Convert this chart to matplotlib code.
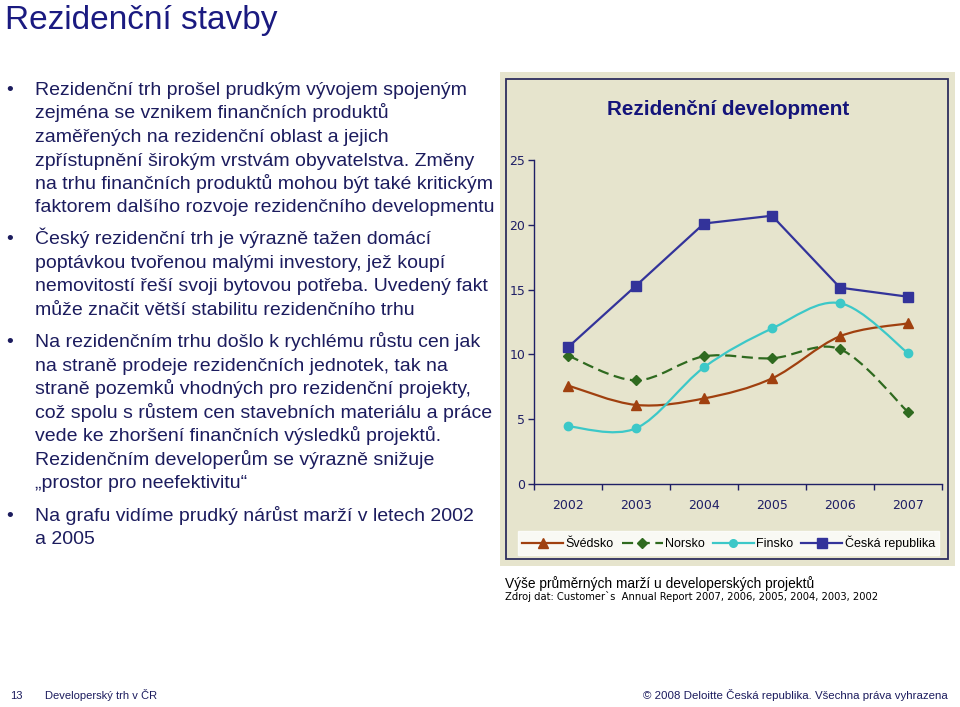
import matplotlib
matplotlib.use("Agg")
import matplotlib.pyplot as plt
from matplotlib.path import Path
from matplotlib.patches import PathPatch, Rectangle
from matplotlib.lines import Line2D

# data
years = ["2002", "2003", "2004", "2005", "2006", "2007"]
svedsko = [7.6, 6.1, 6.6, 8.15, 11.4, 12.4]
norsko = [9.9, 8.0, 9.85, 9.7, 10.4, 5.55]
finsko = [4.45, 4.3, 9.0, 12.0, 13.95, 10.1]
cesko = [10.55, 15.3, 20.1, 20.7, 15.15, 14.45]
yticks = [0, 5, 10, 15, 20, 25]

title = "Rezidenční stavby"
bullets = [
    ["Rezidenční trh prošel prudkým vývojem spojeným",
     "zejména se vznikem finančních produktů",
     "zaměřených na rezidenční oblast a jejich",
     "zpřístupnění širokým vrstvám obyvatelstva. Změny",
     "na trhu finančních produktů mohou být také kritickým",
     "faktorem dalšího rozvoje rezidenčního developmentu"],
    ["Český rezidenční trh je výrazně tažen domácí",
     "poptávkou tvořenou malými investory, jež koupí",
     "nemovitostí řeší svoji bytovou potřeba. Uvedený fakt",
     "může značit větší stabilitu rezidenčního trhu"],
    ["Na rezidenčním trhu došlo k rychlému růstu cen jak",
     "na straně prodeje rezidenčních jednotek, tak na",
     "straně pozemků vhodných pro rezidenční projekty,",
     "což spolu s růstem cen stavebních materiálu a práce",
     "vede ke zhoršení finančních výsledků projektů.",
     "Rezidenčním developerům se výrazně snižuje",
     "„prostor pro neefektivitu“"],
    ["Na grafu vidíme prudký nárůst marží v letech 2002",
     "a 2005"],
]
bullet_y = [95, 244.3, 347.3, 521]

W, H = 960, 707
fig = plt.figure(figsize=(9.6, 7.07), dpi=100)
fig.patch.set_facecolor("white")

def fx(px):
    return px / W

def fy(py):
    return 1 - py / H

TXT = "#1c1c5e"
NAVY = "#1f1f66"
BEIGE = "#e6e4cd"
sans = ["Liberation Sans", "DejaVu Sans"]

# slide title
fig.text(fx(5), fy(29), title, fontsize=24, color="#1a1a80",
         family=sans, va="baseline", ha="left")

# bullet text
for lines, y0 in zip(bullets, bullet_y):
    fig.text(fx(6), fy(y0), "•", fontsize=14, color=TXT, family=sans,
             va="baseline", ha="left")
    for i, ln in enumerate(lines):
        fig.text(fx(35), fy(y0 + i * 23.5), ln, fontsize=14, color=TXT,
                 family=sans, va="baseline", ha="left")

# chart background + frame
fig.patches.append(Rectangle((fx(500), fy(566)), fx(455), (566 - 72) / H,
                             transform=fig.transFigure, facecolor=BEIGE,
                             edgecolor="none", zorder=-2))
fig.patches.append(Rectangle((fx(506), fy(559)), fx(442), (559 - 79) / H,
                             transform=fig.transFigure, facecolor="none",
                             edgecolor="#2e2e5e", linewidth=1.3, zorder=1))

fig.text(fx(728.5), fy(115), "Rezidenční development", fontsize=14.9,
         fontweight="bold", color="#14147a", family=sans,
         ha="center", va="baseline")

ax = fig.add_axes([fx(534), fy(484), (942 - 534) / W, (484 - 160) / H])
ax.patch.set_alpha(0)
for s in ["top", "right"]:
    ax.spines[s].set_visible(False)
for s in ["left", "bottom"]:
    ax.spines[s].set_color(NAVY)
    ax.spines[s].set_linewidth(1.0)

x = list(range(len(years)))
ax.set_xlim(-0.5, len(years) - 0.5)
ax.set_ylim(0, 25)
ax.set_yticks(yticks)
ax.set_yticklabels([str(t) for t in yticks])
ax.set_xticks(x)
ax.set_xticklabels(years)
ax.set_xticks([i - 0.5 for i in range(len(years) + 1)], minor=True)
ax.tick_params(axis="x", which="major", length=0, pad=11, labelsize=9,
               labelcolor=NAVY)
ax.tick_params(axis="x", which="minor", length=4.3, width=1.0, color=NAVY,
               direction="out")
ax.tick_params(axis="y", length=4.3, width=1.0, color=NAVY, pad=2,
               labelsize=9, labelcolor=NAVY)


def smooth_path(xs, ys):
    pts = list(zip(xs, ys))
    n = len(pts)
    verts = [pts[0]]
    codes = [Path.MOVETO]
    for i in range(n - 1):
        p0 = pts[i - 1] if i > 0 else pts[i]
        p1 = pts[i]
        p2 = pts[i + 1]
        p3 = pts[i + 2] if i + 2 < n else pts[i + 1]
        c1 = (p1[0] + (p2[0] - p0[0]) / 6, p1[1] + (p2[1] - p0[1]) / 6)
        c2 = (p2[0] - (p3[0] - p1[0]) / 6, p2[1] - (p3[1] - p1[1]) / 6)
        verts += [c1, c2, p2]
        codes += [Path.CURVE4] * 3
    return Path(verts, codes)


series = [
    ("Švédsko", svedsko, "#a0400f", "^", "-", True, 7),
    ("Norsko", norsko, "#2f6a1f", "D", (0, (5, 2.5)), True, 5.5),
    ("Finsko", finsko, "#3cc8c8", "o", "-", True, 6),
    ("Česká republika", cesko, "#33339a", "s", "-", False, 7),
]

handles = []
for name, vals, col, mk, ls, smooth, ms in series:
    if smooth:
        ax.add_patch(PathPatch(smooth_path(x, vals), facecolor="none",
                               edgecolor=col, linewidth=1.6, linestyle=ls,
                               zorder=2))
    else:
        ax.plot(x, vals, color=col, linewidth=1.6, linestyle=ls, zorder=2)
    ax.plot(x, vals, linestyle="none", marker=mk, markersize=ms, color=col,
            zorder=3)
    handles.append(Line2D([], [], color=col, linestyle=ls, linewidth=1.6,
                          marker=mk, markersize=ms - 0.5))

leg = fig.legend(handles, [s[0] for s in series], loc="center",
                 bbox_to_anchor=(fx(728.5), fy(543)), ncol=4, frameon=True,
                 handlelength=3.3, handletextpad=0.2,
                 columnspacing=0.6, borderpad=0.35, fancybox=False,
                 prop={"family": sans, "size": 9})
leg.get_frame().set_facecolor("white")
leg.get_frame().set_edgecolor("white")

# caption
fig.text(fx(505), fy(588), "Výše průměrných marží u developerských projektů",
         fontsize=9.9, family=sans, color="black", va="baseline")
fig.text(fx(505), fy(600),
         "Zdroj dat: Customer`s  Annual Report 2007, 2006, 2005, 2004, 2003, 2002",
         fontsize=7.2, family="DejaVu Sans", color="black", va="baseline")

# footer
fig.text(fx(10), fy(699), "13", fontsize=8, family=sans, color=TXT,
         va="baseline")
fig.text(fx(45), fy(699), "Developerský trh v ČR", fontsize=8, family=sans,
         color=TXT, va="baseline")
fig.text(fx(948), fy(699),
         "© 2008 Deloitte Česká republika. Všechna práva vyhrazena",
         fontsize=8.25, family=sans, color=TXT, va="baseline", ha="right")

fig.savefig("out.png", dpi=100)
